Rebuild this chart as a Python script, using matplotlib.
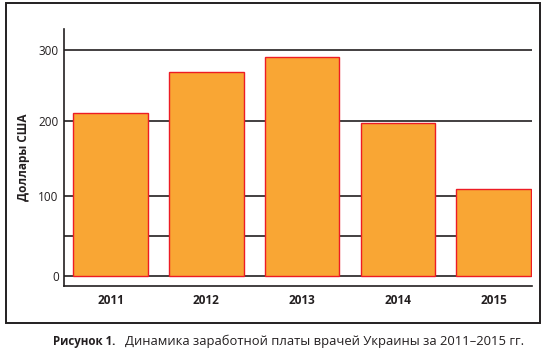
import numpy as np
import matplotlib
matplotlib.use('Agg')
import matplotlib.pyplot as plt
from matplotlib.patches import Rectangle

years = ['2011', '2012', '2013', '2014', '2015']
salary = [212, 270, 291, 197, 110]
y_ticks = [0, 100, 200, 300]
y_grid = [0, 50, 100, 200, 300]

# шкала в оригинале нелинейная - повторяем через кусочно-линейное отображение
knots_v = [-100, 0, 50, 100, 200, 300, 400]
knots_p = [-80.6, 0, 40.3, 80.3, 155.3, 226.0, 296.7]

def fwd(v):
    return np.interp(v, knots_v, knots_p)

def inv(p):
    return np.interp(p, knots_p, knots_v)

plt.rcParams['font.family'] = ['Open Sans', 'DejaVu Sans']
ink = '#231f20'

fig = plt.figure(figsize=(5.45, 3.55), dpi=100)
ax = fig.add_axes([0.118, 0.1944, 0.858, 0.723])
ax.set_yscale('function', functions=(fwd, inv))

x = np.arange(len(years))
for g in y_grid:
    ax.axhline(g, color=ink, lw=1.2, zorder=1)
ax.bar(x, salary, width=0.78, color='#f9a634', edgecolor='#ed1c24', linewidth=1.0, zorder=2)

ax.set_xlim(-0.484, 4.40)
ax.set_ylim(-12, 329.7)
ax.set_xticks(x)
ax.set_xticklabels(years, fontweight='bold', fontsize=8.5, color=ink)
ax.set_yticks(y_ticks)
ax.set_yticklabels([str(t) for t in y_ticks], fontsize=8.5, color=ink)
ax.yaxis.set_minor_locator(matplotlib.ticker.NullLocator())
ax.tick_params(axis='x', length=0, pad=6)
ax.tick_params(axis='y', length=0, pad=4)
ax.set_ylabel('Доллары США', fontweight='bold', fontsize=8.5, color=ink, labelpad=6)

for s in ['top', 'right']:
    ax.spines[s].set_visible(False)
for s in ['left', 'bottom']:
    ax.spines[s].set_color(ink)
    ax.spines[s].set_linewidth(1.2)

# рамка вокруг рисунка
W, H = 545.0, 355.0
fig.patches.append(Rectangle((6.3 / W, 1 - 322.7 / H), (540.3 - 6.3) / W, (322.7 - 2.7) / H,
                             transform=fig.transFigure, fill=False, edgecolor=ink, lw=1.4))

fig.text(53 / W, 1 - 341.7 / H, 'Рисунок 1.', fontweight='bold', fontsize=8.3,
         color=ink, va='center', ha='left')
fig.text(524 / W, 1 - 341.7 / H, 'Динамика заработной платы врачей Украины за 2011–2015 гг.',
         fontsize=9.4, color=ink, va='center', ha='right')

fig.savefig('out.png', dpi=100)
